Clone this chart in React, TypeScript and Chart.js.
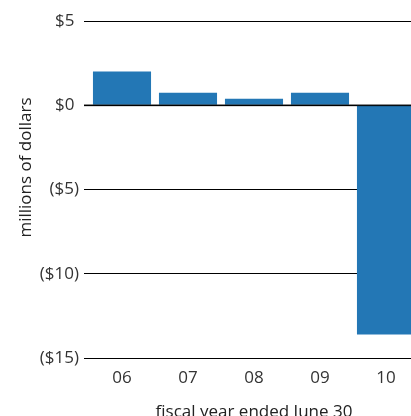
import React, { useEffect, useRef } from "react";
import { Chart, registerables } from "chart.js";

Chart.register(...registerables);

const categories = ["06", "07", "08", "09", "10"];
const values = [2.0, 0.74, 0.38, 0.74, -13.6];
const yTicks = [5, 0, -5, -10, -15];
const yTickLabels = ["$5\u2008", "$0\u2008", "($5)", "($10)", "($15)"];
const yTitle = "millions of dollars";
const xTitle = "fiscal year ended June 30";

const FONT = "'Open Sans', sans-serif";

export default function App() {
  const ref = useRef<HTMLCanvasElement | null>(null);
  useEffect(() => {
    const canvas = ref.current!;
    const zeroLine = {
      id: "zeroLine",
      afterDatasetsDraw(chart: any) {
        const { ctx, chartArea, scales } = chart;
        const y = scales.y.getPixelForValue(0);
        ctx.save();
        ctx.strokeStyle = "rgba(0,0,0,0.6)";
        ctx.lineWidth = 2;
        ctx.beginPath();
        ctx.moveTo(chartArea.left - 5, y);
        ctx.lineTo(chartArea.right + 10, y);
        ctx.stroke();
        ctx.restore();
      },
    };
    const yTitlePlugin = {
      id: "yTitle",
      afterDraw(chart: any) {
        const { ctx } = chart;
        ctx.save();
        ctx.translate(26, 167.5);
        ctx.rotate(-Math.PI / 2);
        ctx.font = `17px ${FONT}`;
        ctx.fillStyle = "#222";
        ctx.textAlign = "center";
        ctx.textBaseline = "middle";
        ctx.fillText(yTitle, 0, 0);
        ctx.restore();
      },
    };
    const chart = new Chart(canvas, {
      type: "bar",
      data: {
        labels: categories,
        datasets: [
          {
            data: values,
            backgroundColor: "#2377b5",
            categoryPercentage: 1,
            barPercentage: 0.88,
          },
        ],
      },
      options: {
        responsive: false,
        animation: false,
        layout: { padding: { top: 21, right: 1, left: 0, bottom: 0 } },
        plugins: { legend: { display: false }, tooltip: { enabled: false } },
        scales: {
          x: {
            grid: { display: false, drawTicks: false },
            border: { display: false },
            ticks: {
              padding: 10,
              color: "#333",
              font: { family: FONT, size: 17 },
            },
            title: {
              display: true,
              text: xTitle,
              color: "#222",
              font: { family: FONT, size: 17 },
              padding: { top: 0, bottom: 3 },
            },
            afterFit(scale: any) {
              scale.height = 67;
            },
          },
          y: {
            min: -15,
            max: 5,
            afterBuildTicks(scale: any) {
              scale.ticks = yTicks.map((v) => ({ value: v }));
            },
            grid: {
              color: "#000",
              lineWidth: 1,
              drawTicks: true,
              tickLength: 5,
              tickColor: "#000",
            },
            border: { display: false },
            ticks: {
              padding: 5,
              color: "#333",
              font: { family: FONT, size: 17 },
              callback: (v: any) => {
                const i = yTicks.indexOf(Number(v));
                return i >= 0 ? yTickLabels[i] : "";
              },
            },
            afterFit(scale: any) {
              scale.width = 89;
            },
          },
        },
      },
      plugins: [zeroLine, yTitlePlugin],
    });
    return () => chart.destroy();
  }, []);
  return (
    <div
      style={{
        position: "fixed",
        left: 0,
        top: 0,
        width: 411,
        height: 416,
        overflow: "hidden",
        background: "#fff",
      }}
    >
      <canvas ref={ref} width={420} height={425} style={{ display: "block" }} />
    </div>
  );
}
